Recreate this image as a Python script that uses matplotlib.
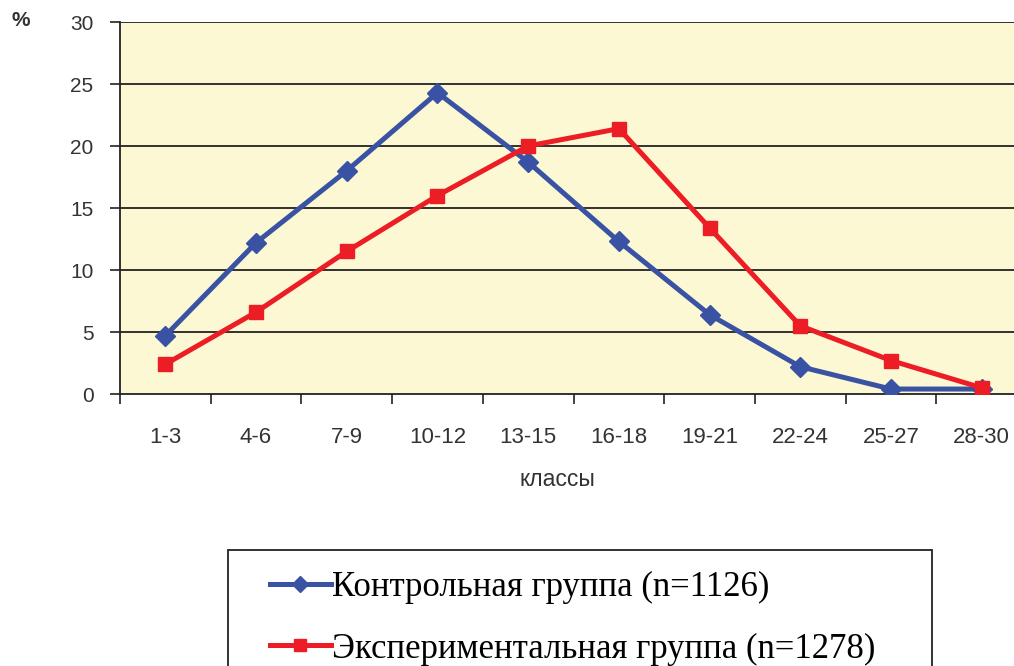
import matplotlib
matplotlib.use("Agg")
import matplotlib.pyplot as plt
import numpy as np
from matplotlib.lines import Line2D
from matplotlib.patches import Rectangle

categories = ["1-3", "4-6", "7-9", "10-12", "13-15", "16-18", "19-21", "22-24", "25-27", "28-30"]
control = [4.7, 12.2, 18.0, 24.3, 18.7, 12.3, 6.4, 2.2, 0.4, 0.4]
experimental = [2.4, 6.6, 11.5, 16.0, 20.0, 21.4, 13.4, 5.5, 2.7, 0.5]
yticks = [0, 5, 10, 15, 20, 25, 30]
label_control = "Контрольная группа (n=1126)"
label_exp = "Экспериментальная группа (n=1278)"

W, H = 1014, 666
fig = plt.figure(figsize=(W / 100, H / 100), dpi=100)
left, right, top, bottom = 120, 1027, 22, 394
ax = fig.add_axes([left / W, (H - bottom) / H, (right - left) / W, (bottom - top) / H])
ax.set_facecolor("#FBF8D3")

blue = "#3A52A3"
red = "#EC1D24"
x = np.arange(len(categories))
ax.plot(x, control, color=blue, lw=3.6, marker="D", ms=10, zorder=3)
ax.plot(x, experimental, color=red, lw=3.6, marker="s", ms=10, zorder=4)

ax.set_xlim(-0.5, len(categories) - 0.5)
ax.set_ylim(0, 30)
ax.set_yticks(yticks)
for yv in yticks[1:]:
    ax.axhline(yv, color="#222222", lw=1.3, zorder=1)

ax.set_xticks(np.arange(-0.5, len(categories), 1.0))
ax.set_xticklabels([])
ax.set_xticks(x, minor=True)
ax.set_xticklabels(categories, minor=True)
ax.tick_params(axis="x", which="major", direction="out", length=7, width=1.2, color="#222222")
ax.tick_params(axis="x", which="minor", length=0, pad=23.5, labelsize=16, labelcolor="#333333")
ax.tick_params(axis="y", direction="out", length=7, width=1.2, color="#222222", pad=12,
               labelsize=15, labelcolor="#333333")
for lab in ax.get_xticklabels(minor=True) + ax.get_yticklabels():
    lab.set_fontfamily("Liberation Sans")

ax.spines["top"].set_visible(False)
ax.spines["right"].set_visible(False)
ax.spines["left"].set_color("#222222")
ax.spines["bottom"].set_color("#222222")
ax.spines["left"].set_linewidth(1.3)
ax.spines["bottom"].set_linewidth(1.3)

fig.text(21 / W, 1 - 20 / H, "%", fontsize=15, fontweight="bold", ha="center", va="center",
         color="#333333", family="Liberation Sans")
fig.text(557 / W, 1 - 479 / H, "классы", fontsize=16.5, ha="center", va="center",
         color="#333333", family="Liberation Sans")

# legend frame (extends past the bottom edge, as in the reference)
fig.patches.append(Rectangle((228 / W, -0.05), (932 - 228) / W, (1 - 550 / H) + 0.05,
                             transform=fig.transFigure, facecolor="white",
                             edgecolor="#222222", lw=1.3, zorder=0))

handles = [Line2D([], [], color=blue, lw=3.6, marker="D", ms=8),
           Line2D([], [], color=red, lw=3.6, marker="s", ms=8)]
leg = fig.legend(handles, [label_control, label_exp], loc="upper left",
                 bbox_to_anchor=(270 / W, 1 - 571 / H), frameon=False,
                 prop={"family": "Liberation Serif", "size": 25},
                 handlelength=1.75, handletextpad=0.05, labelspacing=0.82, borderpad=0,
                 borderaxespad=0)

fig.savefig("out.png", dpi=100)
